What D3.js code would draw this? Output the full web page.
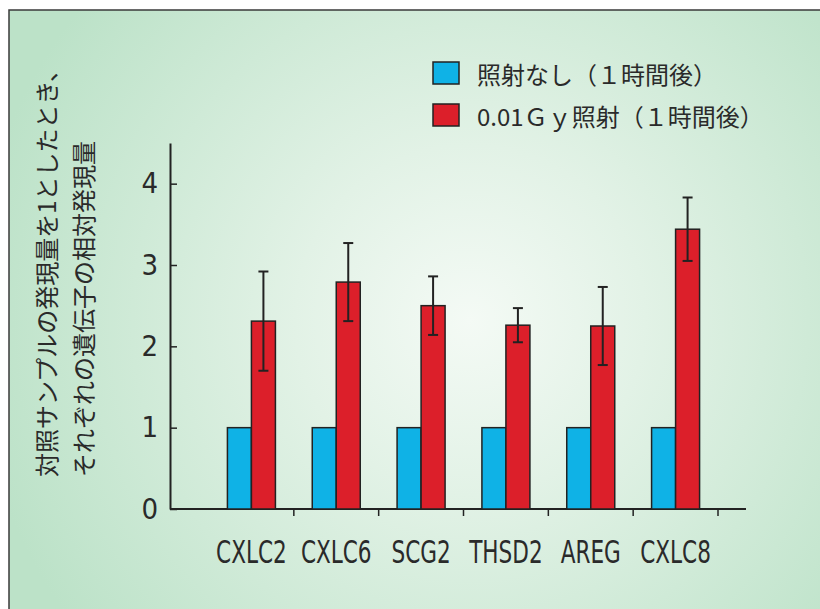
<!DOCTYPE html>
<html>
<head>
<meta charset="utf-8">
<script src="https://cdn.jsdelivr.net/npm/d3@7"></script>
<style>
  html, body { margin: 0; padding: 0; background: #fff; }
  svg { display: block; }
</style>
</head>
<body>
<script>
// Gene expression one hour after exposure, relative to the control sample
const categories = ["CXLC2", "CXLC6", "SCG2", "THSD2", "AREG", "CXLC8"];
const seriesNames = ["照射なし（１時間後）", "0.01Ｇｙ照射（１時間後）"];
const controlValues = [1, 1, 1, 1, 1, 1];
const irradiatedValues = [2.31, 2.79, 2.50, 2.26, 2.25, 3.44];
const irradiatedErrors = [0.61, 0.48, 0.36, 0.21, 0.48, 0.39];
const yTicks = [0, 1, 2, 3, 4];
const yLabelLines = ["対照サンプルの発現量を1としたとき、", "それぞれの遺伝子の相対発現量"];

const W = 820, H = 609;
const colors = ["#0fb2e6", "#dc1f2a"];
const ink = "#222";
const latin = "'Liberation Sans Narrow', 'Arial Narrow', 'DejaVu Sans Condensed', sans-serif";
const cjk = "'Noto Sans CJK JP', 'Noto Sans', sans-serif";

const svg = d3.select("body").append("svg").attr("width", W).attr("height", H);

// Soft green panel, lighter toward the middle
const defs = svg.append("defs");
const grad = defs.append("radialGradient")
  .attr("id", "panelBg").attr("gradientUnits", "userSpaceOnUse")
  .attr("cx", 470).attr("cy", 320).attr("r", 500);
grad.append("stop").attr("offset", 0).attr("stop-color", "#f4faf5");
grad.append("stop").attr("offset", 0.35).attr("stop-color", "#e2f2e6");
grad.append("stop").attr("offset", 1).attr("stop-color", "#bce2c8");

svg.append("rect").attr("x", 9).attr("y", 10).attr("width", W).attr("height", H)
  .attr("fill", "url(#panelBg)").attr("stroke", "#3a3a3a").attr("stroke-width", 1.5);

// Scales
const y = d3.scaleLinear().domain([0, 4.5]).range([509, 143]);
const x = d3.scaleBand().domain(categories).range([209, 718]);
const barW = 24;
const xs = d3.scaleBand().domain([0, 1])
  .range([x.bandwidth() / 2 - barW, x.bandwidth() / 2 + barW]);

// Y axis with inward ticks
const yAxis = svg.append("g").attr("transform", `translate(${170},0)`)
  .call(d3.axisLeft(y).tickValues(yTicks).tickFormat(d3.format("d"))
    .tickSizeInner(-7).tickSizeOuter(0).tickPadding(12));
yAxis.select(".domain").attr("stroke", ink).attr("stroke-width", 2);
yAxis.selectAll(".tick line").attr("stroke", ink).attr("stroke-width", 1.5);
yAxis.selectAll(".tick text").attr("fill", "#2a2a2a")
  .style("font-family", latin).style("font-size", "29px");

// X axis baseline and group separators
svg.append("line").attr("x1", 170).attr("x2", 746)
  .attr("y1", y(0)).attr("y2", y(0)).attr("stroke", ink).attr("stroke-width", 2);
svg.append("g").selectAll("line").data(categories).join("line")
  .attr("x1", d => x(d) + x.step()).attr("x2", d => x(d) + x.step())
  .attr("y1", y(0)).attr("y2", y(0) + 7)
  .attr("stroke", ink).attr("stroke-width", 1.5);

// Bars
const groups = svg.append("g").selectAll("g").data(categories).join("g")
  .attr("transform", d => `translate(${x(d)},0)`);

groups.append("rect")
  .attr("x", xs(0)).attr("width", xs.bandwidth())
  .attr("y", (d, i) => y(controlValues[i]))
  .attr("height", (d, i) => y(0) - y(controlValues[i]))
  .attr("fill", colors[0]).attr("stroke", ink).attr("stroke-width", 1.5);

groups.append("rect")
  .attr("x", xs(1)).attr("width", xs.bandwidth())
  .attr("y", (d, i) => y(irradiatedValues[i]))
  .attr("height", (d, i) => y(0) - y(irradiatedValues[i]))
  .attr("fill", colors[1]).attr("stroke", ink).attr("stroke-width", 1.5);

// Error bars on the irradiated series
const ex = xs(1) + xs.bandwidth() / 2;
const err = groups.append("g").attr("stroke", ink).attr("stroke-width", 2);
err.append("line").attr("x1", ex).attr("x2", ex)
  .attr("y1", (d, i) => y(irradiatedValues[i] + irradiatedErrors[i]))
  .attr("y2", (d, i) => y(irradiatedValues[i] - irradiatedErrors[i]));
err.append("line").attr("x1", ex - 5).attr("x2", ex + 5)
  .attr("y1", (d, i) => y(irradiatedValues[i] + irradiatedErrors[i]))
  .attr("y2", (d, i) => y(irradiatedValues[i] + irradiatedErrors[i]));
err.append("line").attr("x1", ex - 5).attr("x2", ex + 5)
  .attr("y1", (d, i) => y(irradiatedValues[i] - irradiatedErrors[i]))
  .attr("y2", (d, i) => y(irradiatedValues[i] - irradiatedErrors[i]));

// Category labels
svg.append("g").selectAll("text").data(categories).join("text")
  .attr("transform", d => `translate(${x(d) + x.bandwidth() / 2},563) scale(0.75,1)`)
  .attr("text-anchor", "middle")
  .attr("fill", "#2a2a2a")
  .style("font-family", latin).style("font-size", "32px")
  .text(d => d);

// Y axis title, two vertical lines
svg.append("g").selectAll("text").data(yLabelLines).join("text")
  .attr("transform", (d, i) => `translate(${45 + i * 37},477) rotate(-90)`)
  .attr("dominant-baseline", "central")
  .attr("fill", "#2a2a2a")
  .style("font-family", cjk).style("font-size", "24px")
  .text(d => d);

// Legend
const legend = svg.append("g").selectAll("g").data(seriesNames).join("g")
  .attr("transform", (d, i) => `translate(433,${62 + i * 42})`);
legend.append("rect").attr("width", 26).attr("height", 22)
  .attr("fill", (d, i) => colors[i]).attr("stroke", ink).attr("stroke-width", 1.5);
legend.append("text").attr("x", 44).attr("y", 11)
  .attr("dominant-baseline", "central")
  .attr("fill", "#2a2a2a")
  .style("font-family", cjk).style("font-size", "24px")
  .text(d => d);
</script>
</body>
</html>
